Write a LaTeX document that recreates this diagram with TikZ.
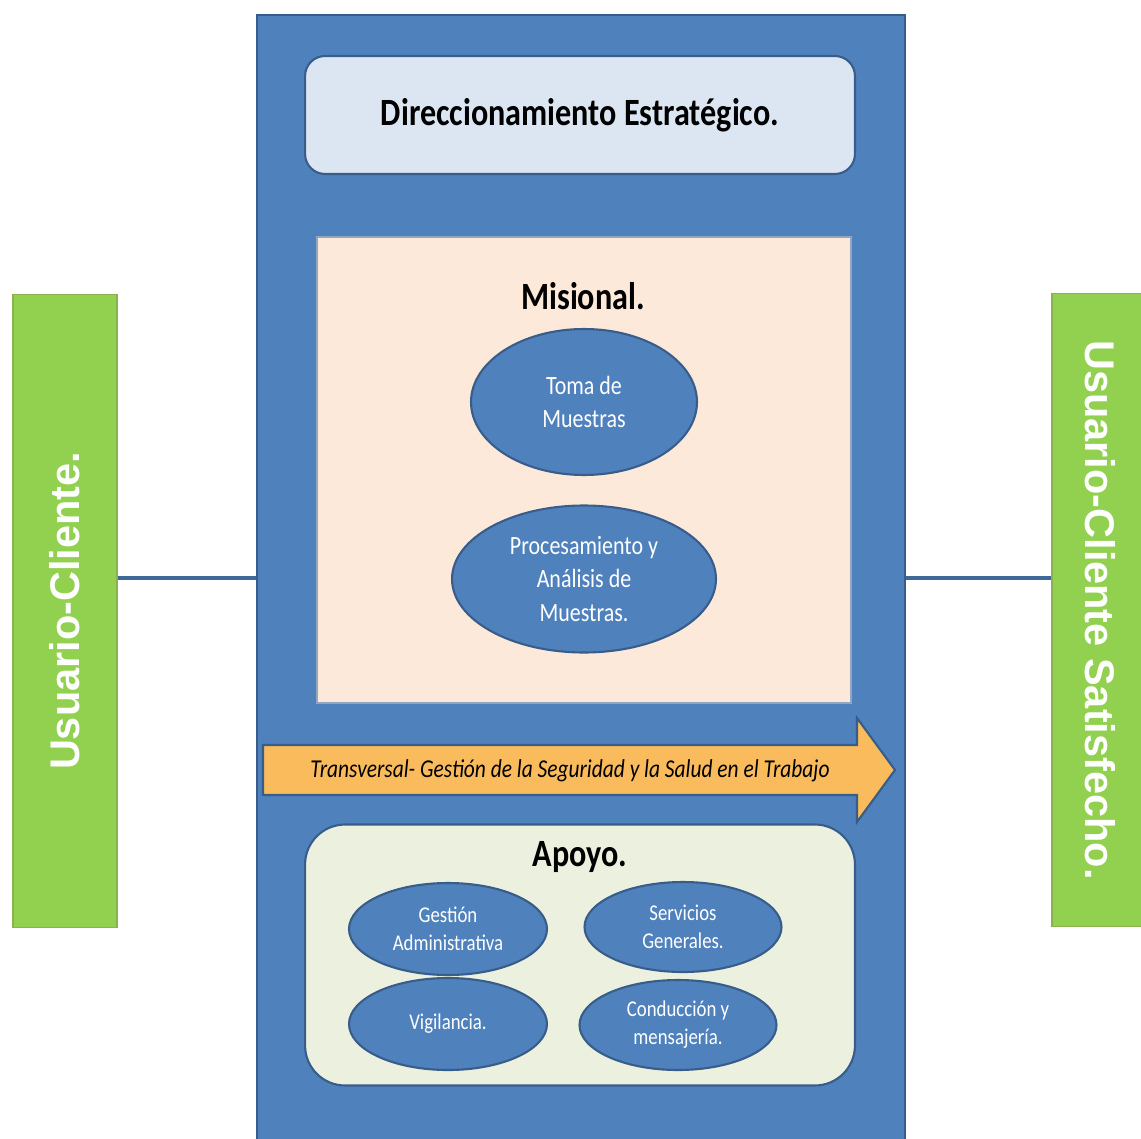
\documentclass[tikz,border=0pt]{standalone}
\usepackage{fontspec}
\setmainfont{Carlito}
\newfontfamily\arialfont{Liberation Sans}
\usepackage{graphicx}
\usetikzlibrary{positioning}
\usetikzlibrary{shapes.geometric}

\definecolor{procblue}{HTML}{4F81BD}
\definecolor{procedge}{HTML}{385D8A}
\definecolor{dirfill}{HTML}{DCE6F2}
\definecolor{misfill}{HTML}{FDE9D9}
\definecolor{apofill}{HTML}{EBF1DE}
\definecolor{usergreen}{HTML}{92D050}
\definecolor{useredge}{HTML}{8CB24E}
\definecolor{transfill}{HTML}{F9BB5C}

% texto algo estirado en vertical
\newcommand{\tallbox}[1]{\scalebox{1}[1.2]{#1}}

\begin{document}
\begin{tikzpicture}[
    x=0.02cm, y=-0.02cm,
    every node/.style={inner sep=0pt},
    caja/.style={rectangle, draw=procedge, line width=1.2pt},
    ovalo/.style={ellipse, draw=procedge, line width=1.2pt, fill=procblue,
        text=white, align=center, font=\fontsize{12.5}{19}\selectfont},
    ovalochico/.style={ovalo, font=\fontsize{10.7}{16}\selectfont,
        minimum width=3.96cm, minimum height=1.84cm},
    titulo/.style={font=\fontsize{18.3}{22}\selectfont\bfseries},
    usuario/.style={rectangle, draw=useredge, line width=1pt, fill=usergreen,
        minimum width=2.08cm, minimum height=12.66cm},
    usertext/.style={text=white, font=\arialfont\fontsize{23.6}{28}\selectfont\bfseries},
    enlace/.style={draw=procblue!80!black, line width=2pt}]

    \fill[white] (0,0) rectangle (1141,1138);
    \useasboundingbox (0,0) rectangle (1141,1138);

    % Bloque central de procesos
    \node[caja, fill=procblue, minimum width=12.96cm, minimum height=22.8cm,
        anchor=north] (proc) at (581,14) {};

    % Direccionamiento
    \node[caja, fill=dirfill, rounded corners=0.4cm, minimum width=11cm,
        minimum height=2.36cm] (dir) at (580,115) {};
    \node[titulo] (dirtitle) at (dir) {\tallbox{Direccionamiento Estratégico.}};

    % Misional
    \node[rectangle, draw=procedge!55!white, line width=1.2pt, fill=misfill,
        minimum width=10.68cm, minimum height=9.32cm] (mis) at (584,470) {};
    \node[titulo] (mistitle) at (583,296) {\tallbox{Misional.}};
    \node[ovalo, minimum width=4.52cm, minimum height=2.92cm] (toma) at (584,402)
        {\tallbox{Toma de}\\\tallbox{Muestras}};
    \node[ovalo, minimum width=5.28cm, minimum height=2.94cm] (procan) at (584,579)
        {\tallbox{Procesamiento y}\\\tallbox{Análisis de}\\\tallbox{Muestras.}};

    % Flecha transversal
    \draw[draw=procedge, line width=1.2pt, fill=transfill, line join=miter]
        (263,745) -- (857,745) -- (857,718) -- (895,770) -- (857,822)
        -- (857,795) -- (263,795) -- cycle;
    \node[font=\fontsize{12.2}{14}\selectfont\itshape] (trans) at (570,771)
        {\tallbox{Transversal- Gestión de la Seguridad y la Salud en el Trabajo}};

    % Apoyo
    \node[caja, fill=apofill, rounded corners=0.8cm, minimum width=11cm,
        minimum height=5.22cm] (apo) at (580,955) {};
    \node[titulo] (apotitle) at (580,857) {\tallbox{Apoyo.}};
    \node[ovalochico] (gesadm) at (448,929)
        {\tallbox{Gestión}\\\tallbox{Administrativa}};
    \node[ovalochico, minimum width=3.94cm, minimum height=1.8cm] (servgen) at (683,927)
        {\tallbox{Servicios}\\\tallbox{Generales.}};
    \node[ovalochico] (vigil) at (448,1024) {\tallbox{Vigilancia.}};
    \node[ovalochico, minimum width=3.94cm, minimum height=1.8cm] (conduc) at (678,1025)
        {\tallbox{Conducción y}\\\tallbox{mensajería.}};

    % Usuarios
    \node[usuario] (userin) at (65,611) {};
    \node[usertext, rotate=90] (userintext) at (userin) {Usuario-Cliente.};
    \node[usuario] (userout) at (1104,610) {};
    \node[usertext, rotate=-90] (userouttext) at (1100,610) {Usuario-Cliente Satisfecho.};

    \coordinate (enlacey) at (581,578);
    \draw[enlace] (userin.east |- enlacey) -- (proc.west |- enlacey);
    \draw[enlace] (proc.east |- enlacey) -- (userout.west |- enlacey);
\end{tikzpicture}
\end{document}
